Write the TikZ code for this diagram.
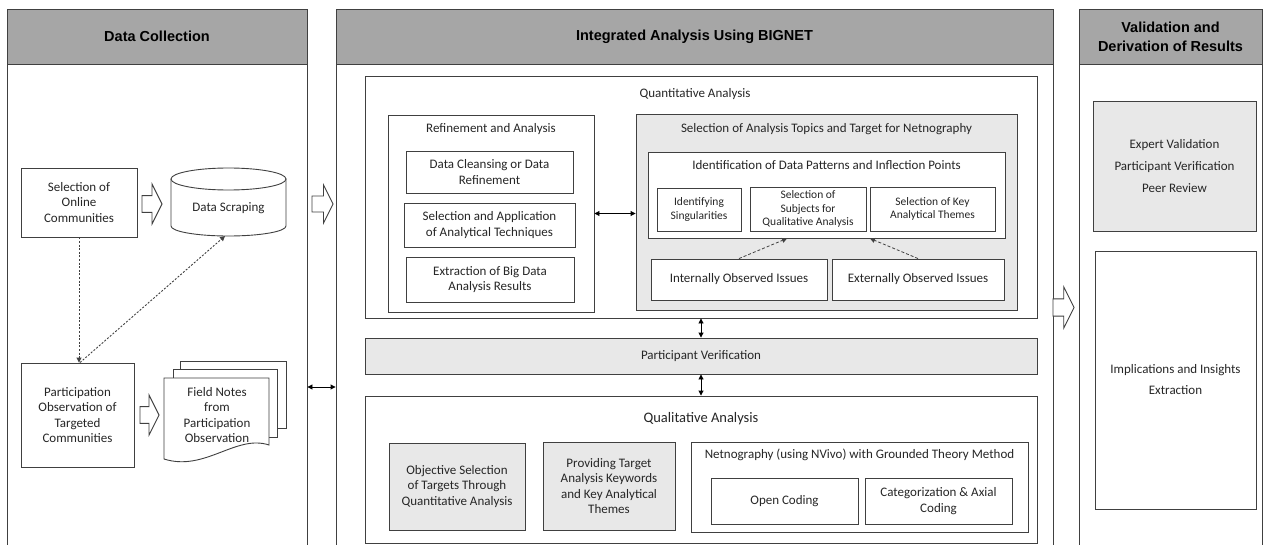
\documentclass[tikz,border=0pt]{standalone}
\usepackage{fontspec}
\setmainfont{Carlito}
\newfontfamily\headfont{Liberation Sans}
\usetikzlibrary{arrows.meta,calc}

\definecolor{hdr}{HTML}{A6A6A6}
\definecolor{shade}{HTML}{E8E8E8}
\definecolor{edge}{HTML}{404040}
\definecolor{ink}{HTML}{262626}

\tikzset{
  panel/.style={draw=edge, line width=0.9pt, fill=white, inner sep=0pt},
  hdrbox/.style={draw=edge, line width=0.9pt, fill=hdr, align=center, text=black,
    font=\headfont\bfseries\fontsize{14.5}{19}\selectfont},
  box/.style={draw=edge, line width=0.9pt, fill=white, align=center, inner sep=2pt,
    text=ink, font=\fontsize{13}{15.5}\selectfont},
  gbox/.style={box, fill=shade},
  caption/.style={text=ink, inner sep=0pt, align=center, font=\fontsize{13}{15.5}\selectfont},
  small/.style={font=\fontsize{11.5}{13.5}\selectfont},
  twoway/.style={{Triangle[length=5pt,width=5pt]}-{Triangle[length=5pt,width=5pt]},
    line width=0.9pt, black},
  dotlink/.style={-{Triangle[length=5pt,width=5pt]}, line width=0.9pt, edge,
    dash pattern=on 2pt off 1.6pt},
  dashlink/.style={-{Triangle[length=5pt,width=5pt]}, line width=0.8pt, edge,
    dash pattern=on 3pt off 2pt},
  hollow/.style={draw=edge, line width=0.9pt, fill=white},
  docsheet/.style={draw=edge, line width=0.9pt, fill=white}
}

% outlined block arrow: x-start, x-end, y-centre, half head height
\newcommand\blockarrow[4]{%
  \draw[hollow] (#1,{#3-0.42*#4}) -- ({#2-0.5*#4},{#3-0.42*#4}) -- ({#2-0.5*#4},{#3-#4})
    -- (#2,#3) -- ({#2-0.5*#4},{#3+#4}) -- ({#2-0.5*#4},{#3+0.42*#4})
    -- (#1,{#3+0.42*#4}) -- cycle;}

\begin{document}
\begin{tikzpicture}[x=1pt,y=-1pt]
\useasboundingbox (0,0) rectangle (1265,545);

% ---------- three columns ----------
\node[panel, minimum width=300pt, minimum height=538pt] (colA) at (157,278) {};
\node[hdrbox, minimum width=300pt, minimum height=55pt] (hdrA) at (157,36.5) {Data Collection};

\node[panel, minimum width=717pt, minimum height=538pt] (colB) at (694.5,278) {};
\node[hdrbox, minimum width=717pt, minimum height=55pt] (hdrB) at (694.5,36.5) {Integrated Analysis Using BIGNET};

\node[panel, minimum width=183pt, minimum height=538pt] (colC) at (1170.5,278) {};
\node[hdrbox, minimum width=183pt, minimum height=55pt] (hdrC) at (1170.5,36.5) {Validation and\\Derivation of Results};

% ---------- data collection ----------
\node[box, minimum width=116pt, minimum height=69pt] (selOnline) at (79,202.5)
  {Selection of\\Online\\Communities};
\node[box, minimum width=113pt, minimum height=104pt] (partObs) at (77.5,415)
  {Participation\\Observation of\\Targeted\\Communities};

% data store drawn as a cylinder
\draw[docsheet] (171,179) -- (171,226)
  arc[start angle=180, end angle=0, x radius=57.5, y radius=10] -- (286,179);
\draw[docsheet] (228.5,179) ellipse[x radius=57.5, y radius=11];
\node[caption] (dataScr) at (228.5,208) {Data Scraping};
\coordinate (dataScrBase) at (225,236);

% stacked field-note sheets
\draw[docsheet] (180,361) rectangle (286,428);
\draw[docsheet] (173,369) rectangle (277,437);
\draw[docsheet] (164,378) -- (269,378) -- (269,445)
  .. controls (236,434) and (205,472) .. (164,459) -- cycle;
\node[caption] (fieldNotes) at (217,415) {Field Notes\\from\\Participation\\Observation};

\blockarrow{142}{162}{204}{20}
\blockarrow{140}{159}{415}{20}
\blockarrow{312}{333}{204}{19}

\draw[dotlink] (selOnline.south) -- (selOnline.south |- partObs.north);
\draw[dotlink] ($(partObs.north)+(2.5,0)$) -- (dataScrBase);

\draw[twoway] (colA.east |- 0,387) -- (colB.west |- 0,387);

% ---------- quantitative analysis ----------
\node[box, minimum width=672pt, minimum height=242pt] (quant) at (701,197) {};
\node[caption] (quantT) at (695,94) {Quantitative Analysis};

\node[box, minimum width=206pt, minimum height=197pt] (refine) at (491,213.5) {};
\node[caption] (refineT) at (491,129) {Refinement and Analysis};
\node[box, minimum width=167pt, minimum height=42pt] (cleanse) at (489.5,172)
  {Data Cleansing or Data\\Refinement};
\node[box, minimum width=171pt, minimum height=44pt] (technique) at (489.5,225)
  {Selection and Application\\of Analytical Techniques};
\node[box, minimum width=168pt, minimum height=45pt] (extract) at (490,279.5)
  {Extraction of Big Data\\Analysis Results};

\node[gbox, minimum width=381pt, minimum height=196pt] (topics) at (826.5,212) {};
\node[caption] (topicsT) at (826.5,129) {Selection of Analysis Topics and Target for Netnography};
\node[box, minimum width=357pt, minimum height=86pt] (ident) at (826.5,195) {};
\node[caption] (identT) at (826.5,165) {Identification of Data Patterns and Inflection Points};
\node[box, small, minimum width=84pt, minimum height=43pt] (singular) at (699,209.5)
  {Identifying\\Singularities};
\node[box, small, minimum width=116pt, minimum height=44pt] (subjects) at (808,209)
  {Selection of\\Subjects for\\Qualitative Analysis};
\node[box, small, minimum width=125pt, minimum height=44pt] (themes) at (932.5,209)
  {Selection of Key\\Analytical Themes};
\node[box, minimum width=176pt, minimum height=41pt] (internal) at (739,279.5)
  {Internally Observed Issues};
\node[box, minimum width=172pt, minimum height=41pt] (external) at (918,279.5)
  {Externally Observed Issues};

\draw[dashlink] (internal.north) -- ($(ident.south)+(-39.5,0)$);
\draw[dashlink] (external.north) -- ($(ident.south)+(43.5,0)$);

\draw[twoway] (refine.east) -- (refine.east -| topics.west);

% ---------- participant verification ----------
\node[gbox, minimum width=672pt, minimum height=36pt] (verify) at (701,356)
  {Participant Verification};
\draw[twoway] (quant.south) -- (verify.north);

% ---------- qualitative analysis ----------
\node[box, minimum width=672pt, minimum height=147pt] (qual) at (701,469.5) {};
\node[caption, font=\fontsize{14.5}{17}\selectfont] (qualT) at (701,419) {Qualitative Analysis};
\draw[twoway] (verify.south) -- (qual.north);

\node[gbox, minimum width=136pt, minimum height=87pt] (objective) at (457,486.5)
  {Objective Selection\\of Targets Through\\Quantitative Analysis};
\node[gbox, minimum width=132pt, minimum height=88pt] (keywords) at (609,486)
  {Providing Target\\Analysis Keywords\\and Key Analytical\\Themes};
\node[box, minimum width=337pt, minimum height=90pt] (netno) at (859.5,487) {};
\node[caption] (netnoT) at (859.5,455) {Netnography (using NVivo) with Grounded Theory Method};
\node[box, minimum width=147pt, minimum height=46pt] (opencode) at (784.5,501) {Open Coding};
\node[box, minimum width=147pt, minimum height=46pt] (axial) at (938.5,501)
  {Categorization \& Axial\\Coding};

% ---------- validation and results ----------
\blockarrow{1053}{1074}{307.5}{20.5}

\node[gbox, minimum width=163pt, minimum height=130pt, font=\fontsize{13}{22}\selectfont]
  (expert) at (1174.5,166) {Expert Validation\\Participant Verification\\Peer Review};
\node[box, minimum width=161pt, minimum height=258pt, font=\fontsize{13}{21}\selectfont]
  (insight) at (1175.5,380) {Implications and Insights\\Extraction};

\end{tikzpicture}
\end{document}
